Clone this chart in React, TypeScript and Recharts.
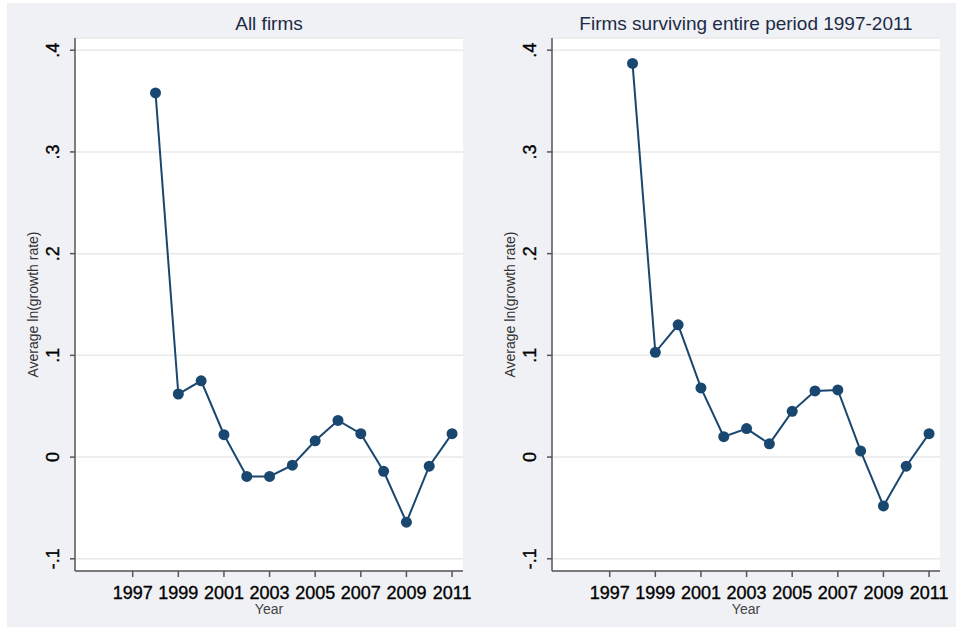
import React from 'react';
import { LineChart, Line, XAxis, YAxis, CartesianGrid } from 'recharts';

// Average ln(growth rate) by year, 1998-2011
const years = [1998, 1999, 2000, 2001, 2002, 2003, 2004, 2005, 2006, 2007, 2008, 2009, 2010, 2011];
const allFirms = [0.358, 0.062, 0.075, 0.022, -0.019, -0.019, -0.008, 0.016, 0.036, 0.023, -0.014, -0.064, -0.009, 0.023];
const survivingFirms = [0.387, 0.103, 0.13, 0.068, 0.02, 0.028, 0.013, 0.045, 0.065, 0.066, 0.006, -0.048, -0.009, 0.023];

const xTicks = [1997, 1999, 2001, 2003, 2005, 2007, 2009, 2011];
const yTicks = [-0.1, 0, 0.1, 0.2, 0.3, 0.4];
const yTickLabels: Record<string, string> = { '-0.1': '-.1', '0': '0', '0.1': '.1', '0.2': '.2', '0.3': '.3', '0.4': '.4' };

const FONT = '"Liberation Sans", Arial, sans-serif';
const NAVY = '#1a476f';
const AXIS = '#555';

const W = 478;
const H = 627;

// y labels are rotated like Stata's default vertical axis labels
const YTick = (props: any) => {
  const { x, y, payload } = props;
  const tx = x - 11;
  return (
    <text
      x={tx}
      y={y}
      transform={`rotate(-90, ${tx}, ${y})`}
      textAnchor="middle"
      fontSize={18}
      fill="#000"
      stroke="#000"
      strokeWidth={0.35}
      fontFamily={FONT}
    >
      {yTickLabels[String(payload.value)]}
    </text>
  );
};

const YTitle = (props: any) => {
  const { viewBox } = props;
  const cx = viewBox.x + 8;
  const cy = viewBox.y + viewBox.height / 2;
  return (
    <text x={cx} y={cy} transform={`rotate(-90, ${cx}, ${cy})`} textAnchor="middle" fontSize={14} fill="#333" fontFamily={FONT}>
      Average ln(growth rate)
    </text>
  );
};

const XTitle = (props: any) => {
  const { viewBox } = props;
  return (
    <text x={viewBox.x + viewBox.width / 2} y={viewBox.y + 43} textAnchor="middle" fontSize={14} fill="#444" fontFamily={FONT}>
      Year
    </text>
  );
};

const Panel = ({ title, values, left }: { title: string; values: number[]; left: number }) => {
  const data = years.map((year, i) => ({ year, value: values[i] }));
  return (
    <div style={{ position: 'absolute', left, top: 0, width: W, height: H }}>
      <div
        style={{
          position: 'absolute',
          left: 75,
          width: 388,
          top: 13,
          textAlign: 'center',
          fontFamily: FONT,
          fontSize: 19,
          lineHeight: '22px',
          color: '#1c2b47',
          whiteSpace: 'nowrap',
        }}
      >
        {title}
      </div>
      <LineChart width={W} height={H} data={data} margin={{ top: 38, right: 15, bottom: 16, left: 30 }}>
        <CartesianGrid vertical={false} fill="#fff" stroke="#e9e9e9" strokeWidth={1.5} />
        <XAxis
          dataKey="year"
          type="number"
          domain={[1994.47, 2011.48]}
          ticks={xTicks}
          allowDataOverflow
          height={40}
          tickSize={6}
          tickMargin={9}
          stroke={AXIS}
          strokeWidth={1.5}
          tick={{ fontSize: 18, fill: '#000', stroke: '#000', strokeWidth: 0.35, fontFamily: FONT }}
          interval={0}
          label={<XTitle />}
        />
        <YAxis
          type="number"
          domain={[-0.112, 0.412]}
          ticks={yTicks}
          allowDataOverflow
          width={45}
          tickSize={5}
          tickMargin={0}
          stroke={AXIS}
          strokeWidth={1.5}
          tick={<YTick />}
          interval={0}
          label={<YTitle />}
        />
        <Line
          type="linear"
          dataKey="value"
          stroke={NAVY}
          strokeWidth={2}
          dot={{ r: 5.5, fill: NAVY, stroke: NAVY, strokeWidth: 0 }}
          activeDot={false}
          isAnimationActive={false}
        />
      </LineChart>
    </div>
  );
}

export default function App() {
  return (
    <div style={{ position: 'absolute', left: 0, top: 0, width: 956, height: 627, background: '#fff', overflow: 'hidden' }}>
      <div style={{ position: 'absolute', left: 7, top: 3, right: 0, bottom: 0, background: '#f0f1f4' }} />
      <Panel title="All firms" values={allFirms} left={0} />
      <Panel title="Firms surviving entire period 1997-2011" values={survivingFirms} left={477} />
    </div>
  );
}
